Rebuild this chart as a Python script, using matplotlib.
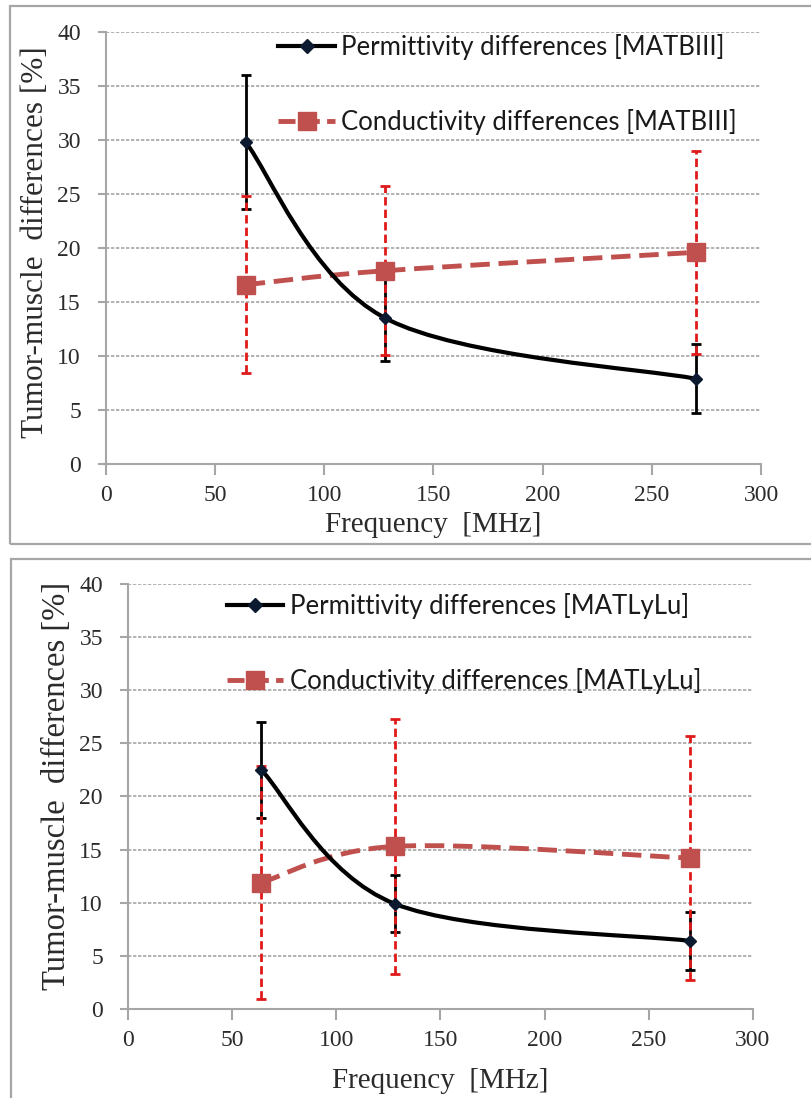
import numpy as np
import matplotlib.pyplot as plt
from matplotlib.path import Path
from matplotlib.patches import PathPatch, Rectangle
from matplotlib.lines import Line2D

plt.rcParams['font.family'] = 'Liberation Serif'

# frequencies [MHz]
freq = [64, 128, 270]

# MATBIII panel
perm_b3 = [29.8, 13.5, 7.9]
perm_b3_err = [6.2, 4.0, 3.2]
cond_b3 = [16.6, 17.9, 19.6]
cond_b3_err = [8.2, 7.8, 9.4]

# MATLyLu panel
perm_ly = [22.5, 9.9, 6.4]
perm_ly_err = [4.5, 2.7, 2.7]
cond_ly = [11.9, 15.3, 14.2]
cond_ly_err = [11.0, 12.0, 11.5]

x_ticks = [0, 50, 100, 150, 200, 250, 300]
y_ticks = [0, 5, 10, 15, 20, 25, 30, 35, 40]

RED = '#c0504d'
ERR_RED = '#e01a1a'
GRAY = '#a6a6a6'
LEG_FONT = 'Lato'
SERIF = 'Liberation Serif'


def smooth_path(x, y):
    # excel-like smoothed line: catmull-rom turned into bezier segments
    pts = np.column_stack([x, y]).astype(float)
    n = len(pts)
    verts = [pts[0]]
    codes = [Path.MOVETO]
    for i in range(n - 1):
        p0 = pts[max(i - 1, 0)]
        p1 = pts[i]
        p2 = pts[i + 1]
        p3 = pts[min(i + 2, n - 1)]
        verts += [p1 + (p2 - p0) / 6, p2 - (p3 - p1) / 6, p2]
        codes += [Path.CURVE4] * 3
    return Path(verts, codes)


def draw_panel(ax, perm, perm_err, cond, cond_err, tag, leg_anchor, ylab, xlab_y, ylab_size):
    ax.set_xlim(0, 300)
    ax.set_ylim(0, 40)
    ax.set_xticks(x_ticks)
    ax.set_yticks(y_ticks)
    for s in ['top', 'right']:
        ax.spines[s].set_visible(False)
    for s in ['left', 'bottom']:
        ax.spines[s].set_color(GRAY)
        ax.spines[s].set_linewidth(1.5)
    for yv in y_ticks[1:]:
        ax.axhline(yv, color=GRAY, lw=1.2, ls=(0, (2, 1)), zorder=0)
    ax.tick_params(axis='x', direction='out', length=8, width=1.5, color=GRAY,
                   labelsize=17, labelcolor='#2b2b2b', pad=7)
    ax.tick_params(axis='y', direction='out', length=6, width=1.5, color=GRAY,
                   labelsize=17, labelcolor='#2b2b2b', pad=12)

    # permittivity: solid black smooth line
    ax.add_patch(PathPatch(smooth_path(freq, perm), fill=False, ec='black', lw=3, zorder=3))
    ax.errorbar(freq, perm, yerr=perm_err, fmt='none', ecolor='black',
                elinewidth=2, capsize=3.5, capthick=2, zorder=3)
    # conductivity: dashed red smooth line
    ax.add_patch(PathPatch(smooth_path(freq, cond), fill=False, ec=RED, lw=3.5,
                           ls=(0, (4, 1.8)), zorder=2))
    eb2 = ax.errorbar(freq, cond, yerr=cond_err, fmt='none', ecolor=ERR_RED,
                      elinewidth=2, capsize=3.5, capthick=2, zorder=4)
    eb2[2][0].set_linestyle((0, (3, 1.5)))
    ax.plot(freq, cond, 's', color=RED, ms=12.5, zorder=5)
    ax.plot(freq, perm, 'D', color='#0b1a2e', ms=6, zorder=6)

    handles = [
        Line2D([], [], color='black', lw=3, marker='D', ms=7, mfc='#0b1a2e', mec='#0b1a2e'),
        Line2D([], [], color=RED, lw=3.5, ls=(0, (3.5, 1.5)), marker='s', ms=12.5),
    ]
    labels = ['Permittivity differences [%s]' % tag, 'Conductivity differences [%s]' % tag]
    ax.legend(handles, labels, loc='upper left', bbox_to_anchor=leg_anchor,
              frameon=False, borderpad=0, borderaxespad=0, handlelength=2.2,
              handletextpad=0.25, labelspacing=1.9,
              prop={'family': LEG_FONT, 'size': 18.5}, labelcolor='#1a1a1a')

    ax.set_ylabel('Tumor-muscle  differences [%]', fontfamily=SERIF, fontsize=ylab_size,
                  color='#2b2b2b')
    ax.set_xlabel('Frequency  [MHz]', fontfamily=SERIF, fontsize=21, color='#2b2b2b')
    ax.yaxis.set_label_coords(ylab[0], ylab[1])
    ax.xaxis.set_label_coords(0.5, xlab_y)


fig = plt.figure(figsize=(8.12, 10.98), dpi=100)

# panel frames
fig.add_artist(Rectangle((0.0123, 0.5046), 0.995, 0.4900, transform=fig.transFigure,
                         fill=False, ec=GRAY, lw=1.6))
fig.add_artist(Rectangle((0.0135, -0.02), 0.995, 0.5109, transform=fig.transFigure,
                         fill=False, ec=GRAY, lw=1.6))

ax1 = fig.add_axes([0.1305, 0.5774, 0.8067, 0.3934])
draw_panel(ax1, perm_b3, perm_b3_err, cond_b3, cond_b3_err, 'MATBIII',
           (0.263, 0.995), (-0.086, 0.514), -0.112, 22.5)

ax2 = fig.add_axes([0.1576, 0.0811, 0.7697, 0.3871])
draw_panel(ax2, perm_ly, perm_ly_err, cond_ly, cond_ly_err, 'MATLyLu',
           (0.158, 0.979), (-0.09, 0.525), -0.14, 23.5)

fig.savefig('out.png', dpi=100)
